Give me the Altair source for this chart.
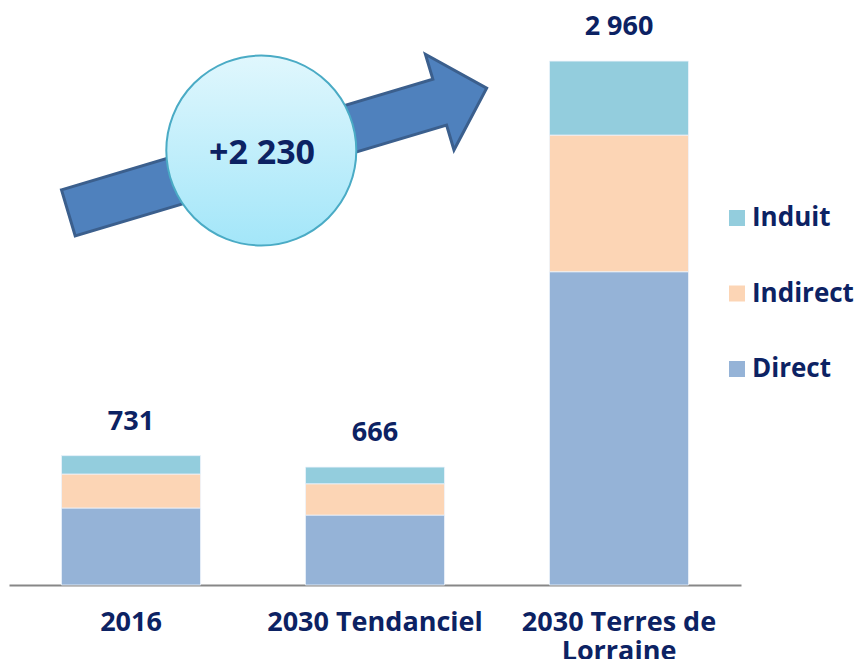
import altair as alt
import pandas as pd

categories = ["2016", "2030 Tendanciel", "2030 Terres de Lorraine"]
direct = [435, 395, 1770]
indirect = [192, 177, 772]
induit = [104, 94, 418]
totals = [731, 666, 2960]
series = ["Direct", "Indirect", "Induit"]
series_colors = ["#95b3d7", "#fcd5b5", "#93cddd"]
delta_label = "+2 230"

NAVY = "#0c2263"
FONT = "Open Sans"

rows = []
for i, c in enumerate(categories):
    for j, (s, v) in enumerate(zip(series, [direct[i], indirect[i], induit[i]])):
        rows.append({"cat": c, "serie": s, "value": v, "ord": j})
df = pd.DataFrame(rows)
tot_df = pd.DataFrame({"cat": categories, "total": totals})

yscale = alt.Scale(domain=[0, 3260], nice=False, zero=True)
xscale = alt.Scale(domain=categories, paddingInner=0.43, paddingOuter=0.215)

x_enc = alt.X(
    "cat:N",
    scale=xscale,
    sort=categories,
    title=None,
    axis=alt.Axis(
        labelAngle=0,
        ticks=False,
        domainColor="#878787",
        domainWidth=2,
        labelFont=FONT,
        labelFontSize=27,
        labelFontWeight="bold",
        labelColor=NAVY,
        labelPadding=45,
        labelBaseline="alphabetic",
        labelLineHeight=29,
        labelLimit=400,
        labelOverlap=False,
        labelExpr="datum.label == '2030 Terres de Lorraine' ? ['2030 Terres de', 'Lorraine'] : datum.label",
    ),
)

bars = alt.Chart(df).mark_bar(stroke="#eef4fb", strokeWidth=0.8).encode(
    x=x_enc,
    y=alt.Y("value:Q", stack="zero", scale=yscale, axis=None),
    color=alt.Color(
        "serie:N",
        scale=alt.Scale(domain=["Induit", "Indirect", "Direct"],
                        range=[series_colors[2], series_colors[1], series_colors[0]]),
        legend=alt.Legend(
            title=None,
            orient="none",
            legendX=715,
            legendY=197,
            padding=0,
            symbolType="square",
            symbolSize=256,
            symbolStrokeWidth=0,
            labelFont=FONT,
            labelFontSize=26,
            labelFontWeight="bold",
            labelColor=NAVY,
            labelOffset=2,
            rowPadding=49.5,
        ),
    ),
    order=alt.Order("ord:Q", sort="ascending"),
)

labels = alt.Chart(tot_df).transform_calculate(
    lab="replace(format(datum.total, ','), ',', ' ')"
).mark_text(
    font=FONT, fontSize=27, fontWeight="bold", color=NAVY,
    baseline="alphabetic", dy=-26,
).encode(
    x=alt.X("cat:N", scale=xscale, sort=categories),
    y=alt.Y("total:Q", scale=yscale),
    text="lab:N",
)

arrow_path = "M -1 -0.11 L 0.7755 -0.11 L 0.7755 -0.229 L 1 0 L 0.7755 0.229 L 0.7755 0.11 L -1 0.11 Z"
anno = pd.DataFrame({"lab": [delta_label]})

arrow = alt.Chart(anno).mark_point(
    shape=arrow_path, size=436.5 ** 2, angle=343.4,
    filled=True, fill="#4f81bd", stroke="#3b5f8d", strokeWidth=3, opacity=1,
).encode(x=alt.value(277.5 - 9), y=alt.value(150.5 - 8))

circle = alt.Chart(anno).mark_point(
    shape="circle", size=190 ** 2, filled=True, opacity=1,
    fill=alt.LinearGradient(
        gradient="linear", x1=0, y1=0, x2=0, y2=1,
        stops=[alt.GradientStop(color="#e0f7fd", offset=0),
               alt.GradientStop(color="#a3e6f9", offset=1)],
    ),
    stroke="#4aabc5", strokeWidth=2,
).encode(x=alt.value(261.3 - 9), y=alt.value(150.5 - 8))

circ_text = alt.Chart(anno).mark_text(
    font=FONT, fontSize=34, fontWeight="bold", color=NAVY,
    baseline="alphabetic", align="center",
).encode(x=alt.value(262 - 9), y=alt.value(164 - 8), text="lab:N")

chart = alt.layer(bars, labels, arrow, circle, circ_text).properties(
    width=732,
    height=577,
    autosize=alt.AutoSizeParams(type="none"),
    padding={"left": 1, "top": 0, "right": 114, "bottom": 74},
).configure_view(stroke=None)

chart.save("out.html", embed_options={"renderer": "svg", "actions": False})
